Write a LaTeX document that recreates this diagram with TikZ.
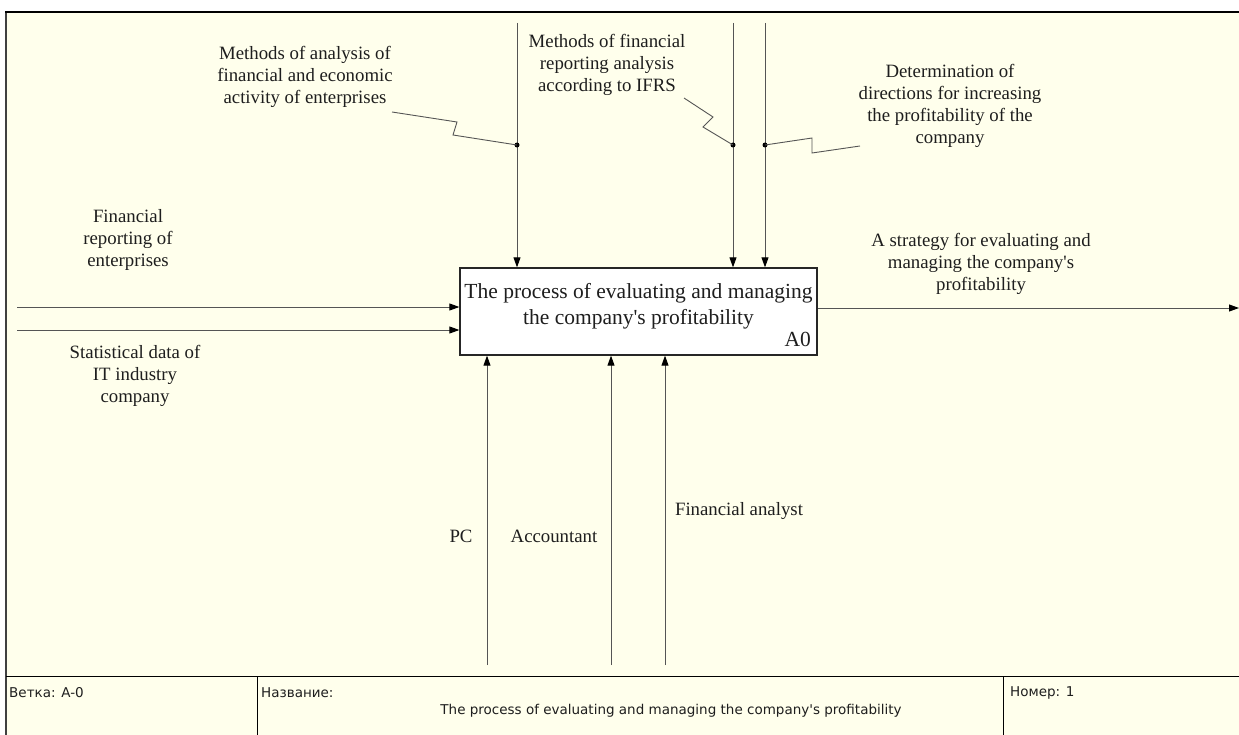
\documentclass[tikz,border=0pt]{standalone}
\usepackage{fontspec}
\setmainfont{Liberation Serif}
\newfontfamily\lbfont{Liberation Serif}[Ligatures=ResetAll]
\newfontfamily\footfont{DejaVu Sans}
\usetikzlibrary{arrows.meta}
\definecolor{bg}{RGB}{255,255,236}
\definecolor{ln}{RGB}{85,85,85}
\definecolor{txt}{RGB}{30,30,30}
\begin{document}
\begin{tikzpicture}[x=1pt,y=-1pt,
  arr/.style={draw=ln, line width=0.9pt, -{Triangle[length=10pt,width=7pt,color=black]}},
  wire/.style={draw=ln, line width=0.9pt},
  lbl/.style={font=\lbfont\fontsize{18.8}{22}\selectfont, align=center, inner sep=0pt, text=txt},
  big/.style={font=\lbfont\fontsize{21.5}{26}\selectfont, inner sep=0pt, text=txt},
  ft/.style={font=\footfont\fontsize{13.5}{15}\selectfont, inner sep=0pt, text=txt},
  dot/.style={circle, fill=black, inner sep=0pt, minimum size=5pt}]

\useasboundingbox (0,0) rectangle (1239,735);
\fill[white] (0,0) rectangle (1239,735);
\fill[bg] (6,12) rectangle (1239,735);
\draw[line width=2.5pt, draw=black!75] (6,735) -- (6,12);
\draw[line width=1.5pt] (5,12) -- (1239,12);

% footer
\draw[line width=1pt] (6,676) -- (1239,676);
\draw[line width=1pt] (257,676) -- (257,735);
\draw[line width=1pt] (1003,676) -- (1003,735);
\node[ft, anchor=west] (fv) at (9,693) {Ветка: A-0};
\node[ft, anchor=west] (fn) at (261,693) {Название:};
\node[ft, anchor=west] (fnum) at (1010,693) {Номер: 1};
\node[ft] (ftitle) at (671,711) {The process of evaluating and managing the company's profitability};

% main box
\node[draw=black!85, line width=1.3pt, fill=white, minimum width=357pt, minimum height=87pt, inner sep=0pt] (box) at (638.5,311.5) {};
\node[big, align=center] (boxt) at (638.5,306) {The process of evaluating and managing\\the company's profitability};
\node[big, anchor=south east] (a0) at (811,347) {A0};

% inputs
\coordinate (in1) at (17,307);
\coordinate (in2) at (17,330);
\draw[arr] (in1) -- (in1 -| box.west);
\draw[arr] (in2) -- (in2 -| box.west);
\node[lbl] (l4) at (128,240) {Financial\\reporting of\\enterprises};
\node[lbl] (l5) at (135,376) {Statistical data of\\IT industry\\company};

% output
\coordinate (out) at (1239,308);
\draw[arr] (box.east |- out) -- (out);
\node[lbl] (l6) at (981,264) {A strategy for evaluating and\\managing the company's\\profitability};

% controls
\coordinate (t1) at (517,23);
\coordinate (t2) at (733,23);
\coordinate (t3) at (765,23);
\draw[arr] (t1) -- (t1 |- box.north);
\draw[arr] (t2) -- (t2 |- box.north);
\draw[arr] (t3) -- (t3 |- box.north);
\node[dot] (d1) at (517,145) {};
\node[dot] (d2) at (733,145) {};
\node[dot] (d3) at (765,145) {};
\node[lbl] (l1) at (305,77) {Methods of analysis of\\financial and economic\\activity of enterprises};
\node[lbl] (l2) at (607,65) {Methods of financial\\reporting analysis\\according to IFRS};
\node[lbl] (l3) at (950,106) {Determination of\\directions for increasing\\the profitability of the\\company};
\coordinate (s1) at (392,112);
\coordinate (s2) at (684,98);
\coordinate (s3) at (860,146);
\draw[wire] (s1) -- (457,122) -- (453,135) -- (d1.center);
\draw[wire] (s2) -- (713,117) -- (703,127) -- (d2.center);
\draw[wire] (s3) -- (812,153) -- (812,138) -- (d3.center);

% mechanisms
\coordinate (m1) at (487,665);
\coordinate (m2) at (611,665);
\coordinate (m3) at (665,665);
\draw[arr] (m1) -- (m1 |- box.south);
\draw[arr] (m2) -- (m2 |- box.south);
\draw[arr] (m3) -- (m3 |- box.south);
\node[lbl] (pc) at (461,536) {PC};
\node[lbl] (acc) at (554,536) {Accountant};
\node[lbl] (fa) at (739,511) {Financial analyst};
\end{tikzpicture}
\end{document}
